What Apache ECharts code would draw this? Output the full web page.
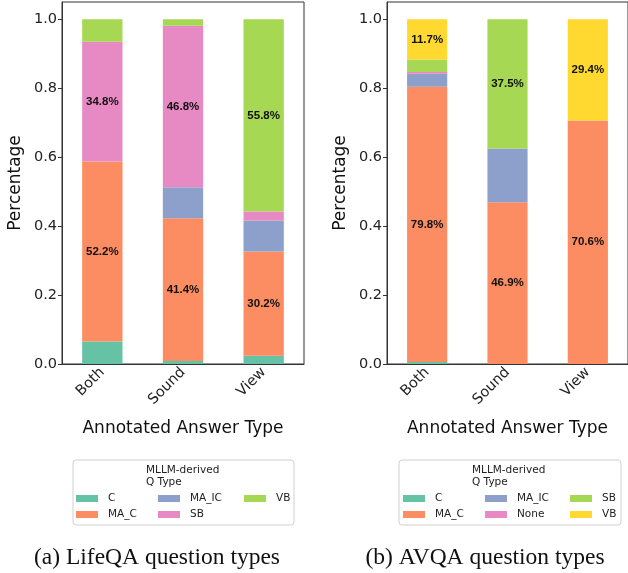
<!DOCTYPE html>
<html>
<head>
<meta charset="utf-8">
<script src="https://cdn.jsdelivr.net/npm/echarts@6/dist/echarts.min.js"></script>
<style>
html,body{margin:0;padding:0;background:#fff;}
#chart{width:628px;height:573px;}
</style>
</head>
<body>
<div id="chart"></div>
<script>
// ---- data ----
const categories = ['Both', 'Sound', 'View'];
const yTicks = [0, 0.2, 0.4, 0.6, 0.8, 1.0];

// (a) LifeQA
const lifeNames = ['C', 'MA_C', 'MA_IC', 'SB', 'VB'];
const lifeC     = [0.065, 0.009, 0.024];
const lifeMA_C  = [0.522, 0.414, 0.302];
const lifeMA_IC = [0.000, 0.090, 0.090];
const lifeSB    = [0.348, 0.468, 0.026];
const lifeVB    = [0.065, 0.019, 0.558];

// (b) AVQA
const avNames = ['C', 'MA_C', 'MA_IC', 'None', 'SB', 'VB'];
const avC     = [0.006, 0.000, 0.000];
const avMA_C  = [0.798, 0.469, 0.706];
const avMA_IC = [0.038, 0.156, 0.000];
const avNone  = [0.005, 0.000, 0.000];
const avSB    = [0.036, 0.375, 0.000];
const avVB    = [0.117, 0.000, 0.294];

const set2 = ['#66c2a5', '#fc8d62', '#8da0cb', '#e78ac3', '#a6d854', '#ffd92f'];

// ---- build ----
function top2Mask(seriesArr) {
  // for each category, mark the two largest segments for labelling
  return categories.map((_, ci) => {
    const vals = seriesArr.map(s => s[ci]);
    const order = vals.map((v, i) => i).sort((a, b) => vals[b] - vals[a]);
    return [order[0], order[1]];
  });
}

function buildSeries(prefix, names, arrs, axisIdx) {
  const mask = top2Mask(arrs);
  return names.map((n, si) => ({
    name: prefix + n,
    type: 'bar',
    stack: prefix,
    xAxisIndex: axisIdx,
    yAxisIndex: axisIdx,
    barWidth: '50%',
    itemStyle: { color: set2[si] },
    emphasis: { disabled: true },
    data: arrs[si].map((v, ci) => ({
      value: v,
      label: {
        show: mask[ci].includes(si) && v > 0,
        formatter: p => (p.value * 100).toFixed(1) + '%',
        color: '#111',
        fontWeight: 'bold',
        fontSize: 11.5,
        fontFamily: 'Liberation Sans'
      }
    }))
  }));
}

const lifeSeries = buildSeries('L:', lifeNames, [lifeC, lifeMA_C, lifeMA_IC, lifeSB, lifeVB], 0);
const avSeries = buildSeries('R:', avNames, [avC, avMA_C, avMA_IC, avNone, avSB, avVB], 1);

const FONT = 'DejaVu Sans';

function xAx(gi) {
  return {
    type: 'category', gridIndex: gi, data: categories,
    axisLine: { lineStyle: { color: '#333', width: 1 } },
    axisTick: { alignWithLabel: true, length: 4, lineStyle: { color: '#333' } },
    axisLabel: { rotate: 45, color: '#222', fontSize: 14.5, fontFamily: FONT, margin: 6 },
    name: 'Annotated Answer Type', nameLocation: 'middle', nameGap: 56,
    nameTextStyle: { fontSize: 17, color: '#111', fontFamily: FONT }
  };
}
function yAx(gi) {
  return {
    type: 'value', gridIndex: gi, min: 0, max: 1.05,
    axisLine: { show: true, lineStyle: { color: '#333', width: 1 } },
    axisTick: { show: true, length: 4, customValues: yTicks, lineStyle: { color: '#333' } },
    axisLabel: { customValues: yTicks, formatter: v => v.toFixed(1), color: '#222', fontSize: 14.5, fontFamily: FONT, margin: 5 },
    splitLine: { show: false },
    name: 'Percentage', nameLocation: 'middle', nameGap: 38,
    nameTextStyle: { fontSize: 17, color: '#111', fontFamily: FONT }
  };
}

function legendCol(prefix, names, left, top) {
  return {
    orient: 'vertical', left: left, top: top, padding: 0, itemGap: 5,
    itemWidth: 22, itemHeight: 7, icon: 'rect',
    selectedMode: false,
    data: names.map(n => prefix + n),
    formatter: n => n.slice(2),
    textStyle: { fontSize: 10.5, fontFamily: FONT, color: '#222', padding: [0, 0, 0, 5] }
  };
}

const option = {
  animation: false,
  grid: [
    { left: 62, top: 2, width: 242, height: 362, show: true, borderColor: '#333', borderWidth: 1, backgroundColor: 'transparent' },
    { left: 387, top: 2, width: 243, height: 362, show: true, borderColor: '#333', borderWidth: 1, backgroundColor: 'transparent' }
  ],
  xAxis: [xAx(0), xAx(1)],
  yAxis: [yAx(0), yAx(1)],
  legend: [
    legendCol('L:', ['C', 'MA_C'], 76, 493),
    legendCol('L:', ['MA_IC', 'SB'], 158, 493),
    legendCol('L:', ['VB'], 244, 493),
    legendCol('R:', ['C', 'MA_C'], 403, 493),
    legendCol('R:', ['MA_IC', 'None'], 485, 493),
    legendCol('R:', ['SB', 'VB'], 570, 493)
  ],
  graphic: [
    { type: 'rect', z: -1, shape: { x: 73, y: 460, width: 221, height: 65, r: 3 }, style: { fill: '#fff', stroke: '#d0d0d0', lineWidth: 1 } },
    { type: 'rect', z: -1, shape: { x: 399, y: 460, width: 222, height: 65, r: 3 }, style: { fill: '#fff', stroke: '#d0d0d0', lineWidth: 1 } },
    { type: 'text', x: 146, y: 464, style: { text: 'MLLM-derived\nQ Type', fontSize: 10.5, fontFamily: FONT, fill: '#222', lineHeight: 12, textAlign: 'left' } },
    { type: 'text', x: 472, y: 464, style: { text: 'MLLM-derived\nQ Type', fontSize: 10.5, fontFamily: FONT, fill: '#222', lineHeight: 12, textAlign: 'left' } },
    { type: 'text', x: 157, y: 558, style: { text: '(a) LifeQA question types', fontSize: 23.5, fontFamily: 'Liberation Serif', fill: '#111', textAlign: 'center', textVerticalAlign: 'middle' } },
    { type: 'text', x: 485, y: 558, style: { text: '(b) AVQA question types', fontSize: 23.5, fontFamily: 'Liberation Serif', fill: '#111', textAlign: 'center', textVerticalAlign: 'middle' } }
  ],
  series: lifeSeries.concat(avSeries)
};

echarts.init(document.getElementById('chart'), null, { renderer: 'canvas' }).setOption(option);
</script>
</body>
</html>
